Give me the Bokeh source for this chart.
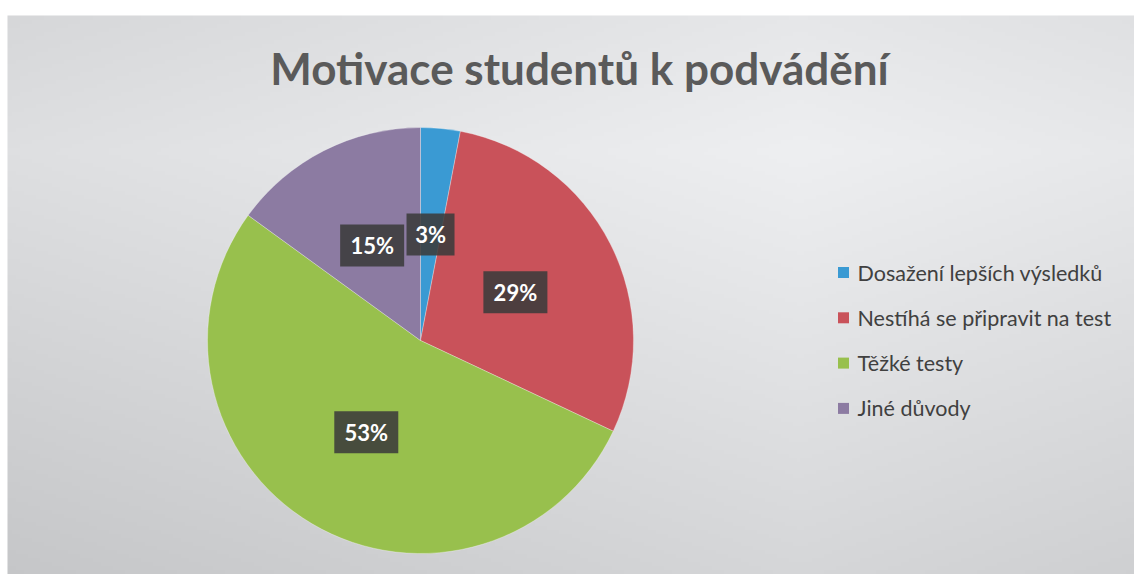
import numpy as np
from bokeh.plotting import figure
from bokeh.models import ColumnDataSource, Range1d
from bokeh.core.properties import value
from bokeh.embed import file_html
from bokeh.resources import INLINE

# ---- data ----
title = "Motivace studentů k podvádění"
categories = ["Dosažení lepších výsledků", "Nestíhá se připravit na test", "Těžké testy", "Jiné důvody"]
shares = [3, 29, 53, 15]
colors = ["#3a9ad3", "#c9525a", "#98c04d", "#8c7ba2"]

W, H = 1134, 574
p = figure(width=W, height=H, output_backend="svg", toolbar_location=None,
           x_range=Range1d(0, W), y_range=Range1d(0, H), min_border=0,
           border_fill_color="white", outline_line_color=None)
p.axis.visible = False
p.grid.visible = False
p.background_fill_color = "white"

# background gradient (style)
gx0, gtop = 7, 15
gw, gh = W - gx0, H - gtop
nx, ny = 280, 140
xs = np.linspace(gx0, W, nx)
ys = np.linspace(0, gh, ny)
X, Y = np.meshgrid(xs, ys)
pageX = X
pageY = H - Y
dx = np.abs(pageX - 800)
dy = np.abs(pageY - 150)
v = 238 - 16 * (dx / 800) - 24 * (dy / 416)
img = np.empty((ny, nx), dtype=np.uint32)
view = img.view(dtype=np.uint8).reshape((ny, nx, 4))
view[:, :, 0] = np.clip(v, 0, 255).astype(np.uint8)
view[:, :, 1] = np.clip(v + 1, 0, 255).astype(np.uint8)
view[:, :, 2] = np.clip(v + 3, 0, 255).astype(np.uint8)
view[:, :, 3] = 255
p.image_rgba(image=[img], x=gx0, y=0, dw=gw, dh=gh)

# pie
cx, cy, R = 420, 234, 213
fr = np.array(shares, dtype=float) / sum(shares)
cum = np.cumsum(fr)
prev = cum - fr
start = np.pi / 2 - prev * 2 * np.pi
end = np.pi / 2 - cum * 2 * np.pi
mid = (start + end) / 2
src = ColumnDataSource(dict(start=start, end=end, color=colors,
                            lx=cx + 0.5 * R * np.cos(mid), ly=cy + 0.5 * R * np.sin(mid),
                            label=[f"{s}%" for s in shares],
                            bw=[16 + 16 * len(f"{s}%") for s in shares]))
p.wedge(x=cx, y=cy, radius=R, start_angle="start", end_angle="end", direction="clock",
        fill_color="color", line_color="white", line_width=0.6, line_alpha=0.5, source=src)

p.rect(x="lx", y="ly", width="bw", height=42, fill_color="#3b3b3b", fill_alpha=0.88,
       line_color=None, source=src)
p.text(x="lx", y="ly", text="label", text_align="center", text_baseline="middle",
       text_color="white", text_font=value("Lato"), text_font_style="bold",
       text_font_size="22px", source=src)

# title
p.text(x=[579], y=[507], text=[title], text_align="center", text_baseline="middle",
       text_color="#5a5a5a", text_font=value("Lato"), text_font_style="bold",
       text_font_size="44px")

# legend
n = len(categories)
leg = ColumnDataSource(dict(x=[843] * n, y=[302 - 45.3 * i for i in range(n)],
                            tx=[857] * n, label=categories, color=colors))
p.rect(x="x", y="y", width=11, height=11, fill_color="color", line_color=None, source=leg)
p.text(x="tx", y="y", text="label", text_align="left", text_baseline="middle",
       text_color="#404040", text_font=value("Lato"), text_font_size="21.5px", source=leg)

open("out.html", "w").write(file_html(p, INLINE))
